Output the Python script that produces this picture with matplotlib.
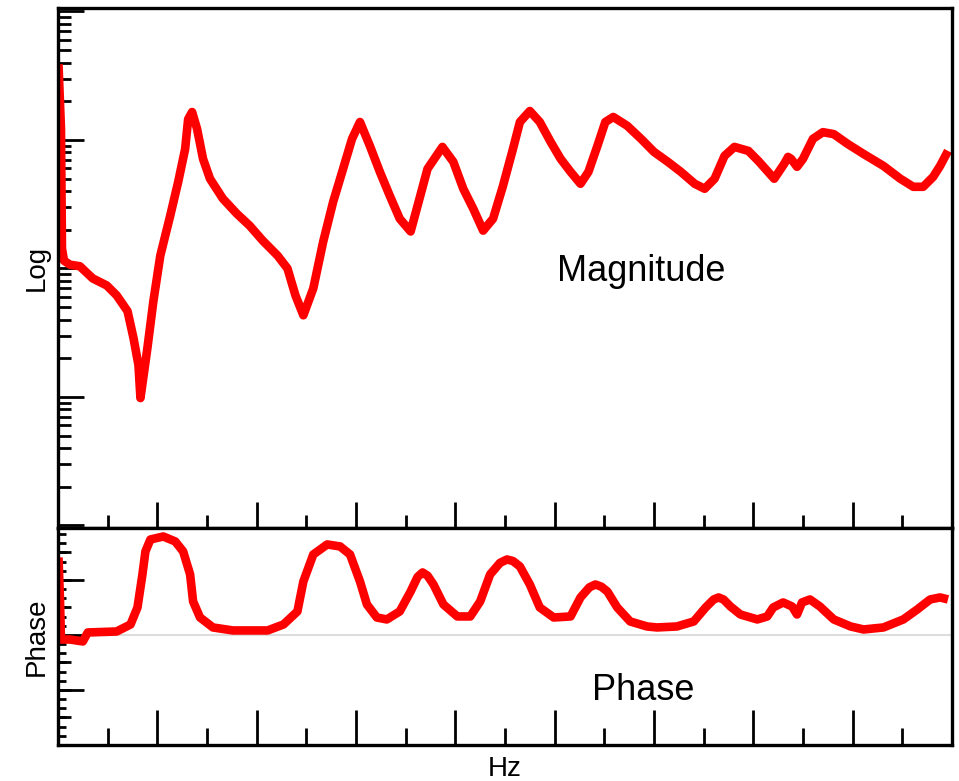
import numpy as np
import matplotlib
matplotlib.use("Agg")
import matplotlib.pyplot as plt
from matplotlib.ticker import MultipleLocator, LogLocator, NullFormatter

plt.rcParams['font.family'] = ['Liberation Sans', 'DejaVu Sans']

# magnitude response (Hz, linear magnitude on log axis)
mag_freq = [0.5, 3, 4, 6, 12, 22, 35, 49, 59, 70, 76, 81, 83, 90, 96, 103, 113, 121,
            128, 131, 135, 140, 146, 153, 166, 180, 193, 206, 221, 231, 239, 247, 257,
            267, 277, 287, 296, 304, 314, 324, 334, 344, 355, 362, 372, 387, 398, 408,
            418, 428, 438, 448, 458, 465, 475, 485, 496, 506, 516, 526, 534, 543, 551,
            559, 573, 587, 600, 614, 627, 641, 651, 661, 671, 681, 695, 705, 721, 731,
            735, 738, 744, 750, 760, 770, 781, 795, 811, 831, 848, 861, 871, 881, 888, 896]
mag_val = [38.8, 12.2, 1.43, 1.15, 1.07, 1.04, 0.836, 0.738, 0.618, 0.465, 0.287, 0.177,
           0.098, 0.240, 0.555, 1.26, 2.58, 4.72, 8.51, 14.5, 16.5, 12.2, 7.13, 4.99, 3.49,
           2.67, 2.15, 1.65, 1.26, 1.0, 0.618, 0.432, 0.700, 1.62, 3.30, 5.96, 10.2, 13.8,
           8.98, 5.65, 3.68, 2.44, 1.94, 3.08, 5.96, 8.83, 6.75, 4.17, 2.92, 1.97, 2.44,
           4.40, 8.51, 13.8, 16.8, 13.8, 9.64, 7.13, 5.65, 4.56, 5.65, 8.98, 13.8, 15.1,
           12.9, 10.2, 8.07, 6.75, 5.65, 4.56, 4.17, 4.99, 7.52, 8.83, 8.22, 6.87, 4.99,
           6.51, 7.38, 7.13, 6.18, 7.13, 10.2, 11.5, 11.1, 9.31, 7.78, 6.28, 4.99, 4.32,
           4.32, 5.16, 6.28, 8.22]

# phase response (Hz, degrees)
ph_freq = [0.5, 2, 3, 12, 25, 30, 59, 73, 80, 85, 88, 93, 106, 118, 126, 133, 136, 143,
           156, 176, 211, 227, 241, 247, 257, 271, 284, 294, 304, 311, 321, 331, 344, 355,
           362, 367, 372, 378, 388, 402, 415, 425, 435, 445, 452, 458, 465, 475, 485, 499,
           516, 526, 535, 541, 547, 553, 563, 576, 593, 603, 623, 640, 652, 660, 665, 670,
           677, 687, 704, 714, 720, 730, 739, 744, 749, 757, 767, 781, 798, 811, 831, 851,
           865, 878, 888, 896]
ph_val = [126.8, 58.1, -7.4, -7.4, -10.6, 4.1, 5.7, 17.2, 45.0, 99.0, 136.6, 156.2, 161.1,
          153.0, 136.6, 99.0, 54.8, 28.6, 12.3, 7.4, 7.4, 17.2, 38.5, 87.5, 131.7, 148.1,
          144.8, 131.7, 87.5, 49.9, 28.6, 25.4, 38.5, 71.2, 95.0, 102.3, 97.0, 82.6, 49.9,
          30.3, 30.3, 54.8, 99.0, 118.0, 123.5, 121.0, 112.1, 82.6, 45.0, 28.6, 30.3, 61.4,
          78.0, 82.6, 79.0, 71.2, 45.0, 22.1, 13.9, 12.3, 13.9, 22.1, 45.0, 58.0, 61.4, 58.0,
          46.6, 33.5, 25.4, 30.3, 45.0, 53.2, 46.6, 33.5, 53.2, 58.1, 46.6, 25.4, 13.9, 9.0,
          12.3, 25.4, 41.7, 58.1, 61.4, 58.1]

red = '#ff0000'
W, H = 959, 781
fig = plt.figure(figsize=(W / 100, H / 100), dpi=100)

x0, x1 = 58, 952
ax1 = fig.add_axes([x0 / W, 1 - 528 / H, (x1 - x0) / W, (528 - 8) / H])
ax2 = fig.add_axes([x0 / W, 1 - 745 / H, (x1 - x0) / W, (745 - 528) / H])

for ax in (ax1, ax2):
    for s in ax.spines.values():
        s.set_linewidth(2.4)
    ax.set_xlim(0, 900)
    ax.xaxis.set_major_locator(MultipleLocator(100))
    ax.xaxis.set_minor_locator(MultipleLocator(50))
    ax.tick_params(which='both', direction='in', top=False, right=False,
                   labelbottom=False, labelleft=False, width=2.0, color='black')

# magnitude panel
ax1.plot(mag_freq, mag_val, color=red, lw=6.2, solid_joinstyle='round',
         solid_capstyle='butt')
ax1.set_yscale('log')
ax1.set_ylim(10 ** -2.02, 10 ** 2.027)
ax1.yaxis.set_major_locator(LogLocator(base=10, numticks=10))
ax1.yaxis.set_minor_locator(LogLocator(base=10, subs=np.arange(2, 10), numticks=10))
ax1.yaxis.set_minor_formatter(NullFormatter())
ax1.tick_params(which='major', length=18.7)
ax1.tick_params(which='minor', length=9.4)
ax1.set_ylabel('Log', fontsize=20, labelpad=6)
ax1.text(0.652, 0.494, 'Magnitude', transform=ax1.transAxes, fontsize=26,
         ha='center', va='center')

# phase panel
ax2.axhline(0, color='#dddddd', lw=1.5, zorder=1)
ax2.plot(ph_freq, ph_val, color=red, lw=6.2, zorder=2, solid_joinstyle='round',
         solid_capstyle='butt')
ax2.set_ylim(-180, 175)
ax2.yaxis.set_major_locator(MultipleLocator(90))
ax2.yaxis.set_minor_locator(MultipleLocator(15))
ax2.tick_params(axis='x', which='major', length=25)
ax2.tick_params(axis='x', which='minor', length=12.2)
ax2.tick_params(axis='y', which='major', length=18.7)
ax2.tick_params(axis='y', which='minor', length=5.8)
mid = ax2.secondary_yaxis('left')
mid.spines['left'].set_visible(False)
mid.set_yticks(np.arange(-180, 181, 45))
mid.tick_params(direction='in', length=9.4, width=2.0, labelleft=False)
ax2.set_ylabel('Phase', fontsize=20, labelpad=6)
ax2.set_xlabel('Hz', fontsize=20, labelpad=8)
ax2.text(0.655, 0.253, 'Phase', transform=ax2.transAxes, fontsize=26,
         ha='center', va='center')

fig.savefig('out.png', dpi=100)
